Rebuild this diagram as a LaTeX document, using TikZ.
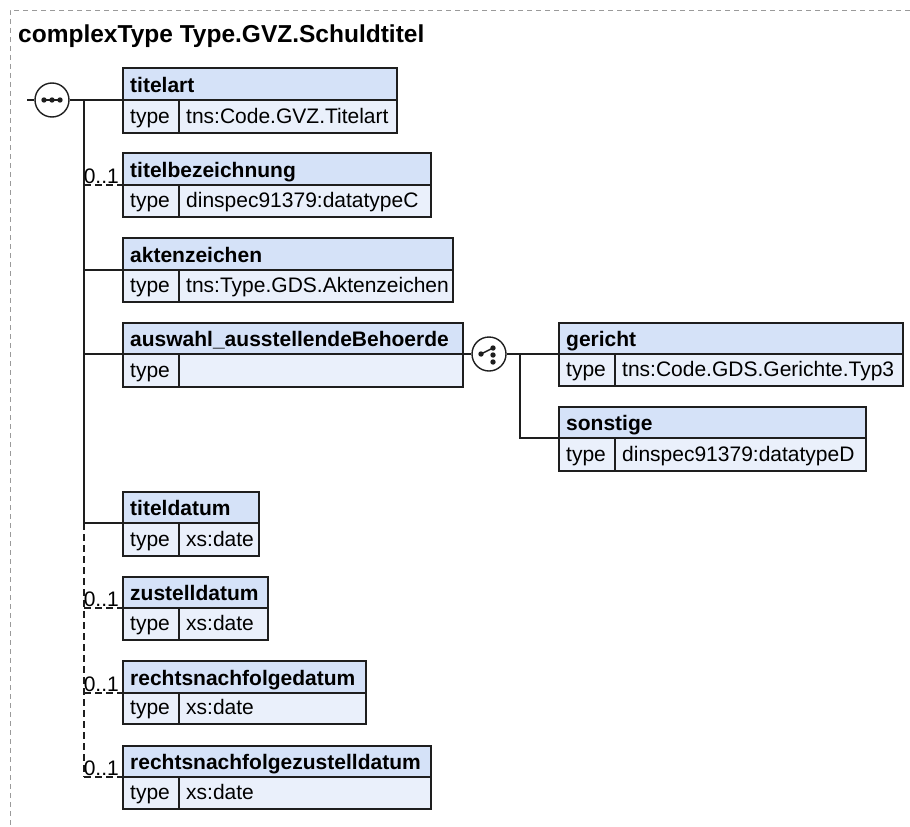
\documentclass[tikz,border=0pt]{standalone}
\usepackage{fontspec}
\setmainfont{Liberation Sans}
\usetikzlibrary{calc}
\definecolor{hdrfill}{HTML}{D5E2F8}
\definecolor{rowfill}{HTML}{EAF0FB}
\definecolor{framecol}{HTML}{9A9A9A}
\definecolor{linecol}{HTML}{1E1E1E}
\tikzset{
  cell/.style={draw=linecol, line width=1.4pt, inner sep=0pt, outer sep=0pt, anchor=north west},
  hdrcell/.style={cell, fill=hdrfill},
  rowcell/.style={cell, fill=rowfill},
  boxtext/.style={inner sep=0pt, anchor=base west, font=\fontsize{21}{24}\selectfont},
  boldtext/.style={boxtext, font=\fontsize{21}{24}\selectfont\bfseries},
  conn/.style={draw=linecol, line width=1.4pt},
  optconn/.style={conn, dash pattern=on 7pt off 4pt},
  occur/.style={inner sep=0pt, anchor=base east, font=\fontsize{21}{24}\selectfont},
  compositor/.style={circle, draw=linecol, line width=1.4pt, fill=white, minimum size=34pt, inner sep=0pt},
}
% #1 name, #2 x0, #3 top, #4 sep, #5 bottom, #6 x1, #7 label, #8 type
\newcommand{\xelem}[8]{%
  \node[hdrcell, minimum width={(#6-#2)*1pt}, minimum height={(#4-#3)*1pt}] (#1) at (#2,#3) {};
  \node[boldtext] (#1-l) at (#2+7,#4-8) {#7};
  \node[rowcell, minimum width={56pt}, minimum height={(#5-#4)*1pt}] (#1-tc) at (#2,#4) {};
  \node[rowcell, minimum width={(#6-#2-56)*1pt}, minimum height={(#5-#4)*1pt}] (#1-vc) at (#2+56,#4) {};
  \node[boxtext] (#1-t) at (#2+7,#5-10) {type};
  \node[boxtext] (#1-v) at (#2+63,#5-10) {#8};
}
\begin{document}
\begin{tikzpicture}[x=1pt,y=-1pt]
\useasboundingbox (0,0) rectangle (910,827);
% frame
\draw[framecol, line width=1pt, dash pattern=on 5pt off 4pt] (910,10) -- (10,10) -- (10,827);
\node[inner sep=0pt, anchor=base west, font=\fontsize{24.5}{28}\selectfont\bfseries] (title) at (18,42) {complexType Type.GVZ.Schuldtitel};

% elements
\xelem{titelart}{123}{68}{100}{133}{397}{titelart}{tns:Code.GVZ.Titelart}
\xelem{titelbez}{123}{153}{185}{217}{431}{titelbezeichnung}{dinspec91379:datatypeC}
\xelem{akten}{123}{238}{270}{302}{453}{aktenzeichen}{tns:Type.GDS.Aktenzeichen}
\xelem{auswahl}{123}{323}{354}{387}{463}{auswahl\_ausstellendeBehoerde}{}
\xelem{gericht}{559}{323}{354}{386}{903}{gericht}{tns:Code.GDS.Gerichte.Typ3}
\xelem{sonstige}{559}{407}{438}{471}{866}{sonstige}{dinspec91379:datatypeD}
\xelem{titeldatum}{123}{492}{523}{556}{259}{titeldatum}{xs:date}
\xelem{zustell}{123}{577}{608}{640}{268}{zustelldatum}{xs:date}
\xelem{rnd}{123}{661}{693}{724}{366}{rechtsnachfolgedatum}{xs:date}
\xelem{rnzd}{123}{746}{777}{809}{431}{rechtsnachfolgezustelldatum}{xs:date}

% sequence compositor
\coordinate (seqin) at (27,100);
\node[compositor] (seq) at (52,100) {};
\foreach \dx in {-8,0,8} \fill[linecol] ($(seq)+(\dx,0)$) circle (2.7pt);
\draw[linecol, line width=1.4pt] ($(seq)+(-8,0)$) -- ($(seq)+(8,0)$);
\coordinate (trunk) at (84,100);
\draw[conn] (seqin) -- (seq.west);
\draw[conn] (seq.east) -- (titelart.south west);
\draw[conn] (trunk) -- (trunk |- titeldatum.south west) -- (titeldatum.south west);
\draw[optconn] (trunk |- titelbez.south west) -- (titelbez.south west);
\draw[conn] (trunk |- akten.south west) -- (akten.south west);
\draw[conn] (trunk |- auswahl.south west) -- (auswahl.south west);
\draw[optconn] (trunk |- titeldatum.south west) -- (trunk |- rnzd.south west);
\draw[optconn] (trunk |- zustell.south west) -- (zustell.south west);
\draw[optconn] (trunk |- rnd.south west) -- (rnd.south west);
\draw[optconn] (trunk |- rnzd.south west) -- (rnzd.south west);
\node[occur] (occ1) at (119,183) {0..1};
\node[occur] (occ2) at (119,606) {0..1};
\node[occur] (occ3) at (119,691) {0..1};
\node[occur] (occ4) at (119,775) {0..1};

% choice compositor
\node[compositor] (choice) at (489,354) {};
\draw[linecol, line width=1.4pt] ($(choice)+(-8,0)$) -- ($(choice)+(4,-6)$);
\foreach \a/\b in {-8/0,4/-6,4/1,4/8} \fill[linecol] ($(choice)+(\a,\b)$) circle (2.7pt);
\draw[conn] (auswahl.south east) -- (choice.west);
\coordinate (branch) at (520,354);
\draw[conn] (choice.east) -- (gericht.south west);
\draw[conn] (branch) |- (sonstige.south west);
\end{tikzpicture}
\end{document}
